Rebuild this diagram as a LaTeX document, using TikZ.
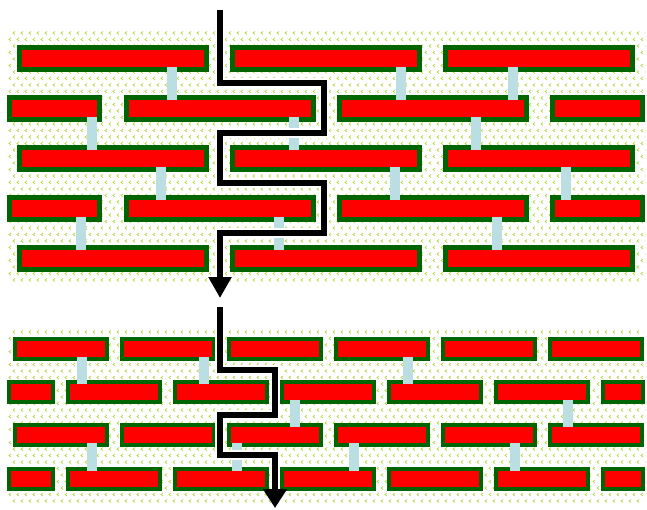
\documentclass[tikz,border=0pt]{standalone}
\usetikzlibrary{arrows.meta,patterns}
\definecolor{metal}{RGB}{255,0,0}
\definecolor{rim}{RGB}{0,100,0}
\definecolor{via}{RGB}{186,222,226}
\definecolor{dotc}{RGB}{180,214,70}

% small chevrons for the substrate
\pgfdeclarepatternformonly{chevrons}{\pgfqpoint{-1pt}{-1pt}}{\pgfqpoint{9pt}{14pt}}{\pgfqpoint{8pt}{13pt}}{%
  \pgfsetlinewidth{0.7pt}%
  \pgfpathmoveto{\pgfqpoint{3pt}{3pt}}\pgfpathlineto{\pgfqpoint{1pt}{1.5pt}}\pgfpathlineto{\pgfqpoint{3pt}{0pt}}%
  \pgfpathmoveto{\pgfqpoint{7pt}{9.5pt}}\pgfpathlineto{\pgfqpoint{5pt}{8pt}}\pgfpathlineto{\pgfqpoint{7pt}{6.5pt}}%
  \pgfusepath{stroke}}

\begin{document}
\begin{tikzpicture}[x=1pt,y=-1pt,
  bed/.style={pattern=chevrons,pattern color=dotc},
  brick/.style={draw=rim,fill=metal,line width=5pt},
  chip/.style={draw=rim,fill=metal,line width=4pt},
  viabar/.style={fill=via},
  halo/.style={draw=white,line width=10pt,miter limit=20},
  flow/.style={draw=black,line width=6pt,miter limit=20}]
\useasboundingbox (0,0) rectangle (647,509);

% upper band: long bricks
\fill[bed] (7,30) rectangle (645,283);
\foreach \y in {45,145,245}
  \foreach \x in {17,230,443}
    \draw[brick] (\x+2.5,\y+2.5) rectangle ++(187,22);
\foreach \y in {95,195}
  \foreach \x/\w in {7/95,124/192,337/192,550/95}
    \draw[brick] (\x+2.5,\y+2.5) rectangle ++(\w-5,22);
\foreach \x/\y in {167/67,396/67,508/67,87/117,289/117,471/117,
                   156/167,390/167,561/167,76/217,274/217,492/217}
  \fill[viabar] (\x,\y) rectangle ++(10,33);

% lower band: short bricks
\fill[bed] (7,327) rectangle (645,502);
\foreach \y in {337,423}
  \foreach \x in {13,120,227,334,441,548}
    \draw[chip] (\x+2,\y+2) rectangle ++(92,20);
\foreach \y in {380,467}
  \foreach \x/\w in {7/48,66/96,173/96,280/96,387/96,494/96,601/44}
    \draw[chip] (\x+2,\y+2) rectangle ++(\w-4,20);
\foreach \x/\y/\l in {77/357/27,199/357/27,403/357/27,290/400/27,563/400/27,
                      87/443/28,232/443/28,349/443/28,510/443/28}
  \fill[viabar] (\x,\y) rectangle ++(10,\l);

% crack paths
\coordinate (ti) at (220,10);
\coordinate (tb) at (220,277);
\coordinate (to) at (220,298);
\coordinate (bi) at (220,307);
\coordinate (bb) at (275,489);
\coordinate (bo) at (275,508);
\draw[halo] (ti) -- ++(0,73) -- ++(104,0) -- ++(0,50) -- ++(-104,0) -- ++(0,50)
  -- ++(104,0) -- ++(0,50) -- ++(-104,0) -- (tb);
\draw[flow,-{Triangle[length=21pt,width=22pt]}] (ti) -- ++(0,73) -- ++(104,0) -- ++(0,50)
  -- ++(-104,0) -- ++(0,50) -- ++(104,0) -- ++(0,50) -- ++(-104,0) -- (to);
\draw[halo] (bi) -- ++(0,63) -- ++(55,0) -- ++(0,45) -- ++(-55,0) -- ++(0,40)
  -- ++(55,0) -- (bb);
\draw[flow,-{Triangle[length=19pt,width=23pt]}] (bi) -- ++(0,63) -- ++(55,0) -- ++(0,45)
  -- ++(-55,0) -- ++(0,40) -- ++(55,0) -- (bo);
\end{tikzpicture}
\end{document}
